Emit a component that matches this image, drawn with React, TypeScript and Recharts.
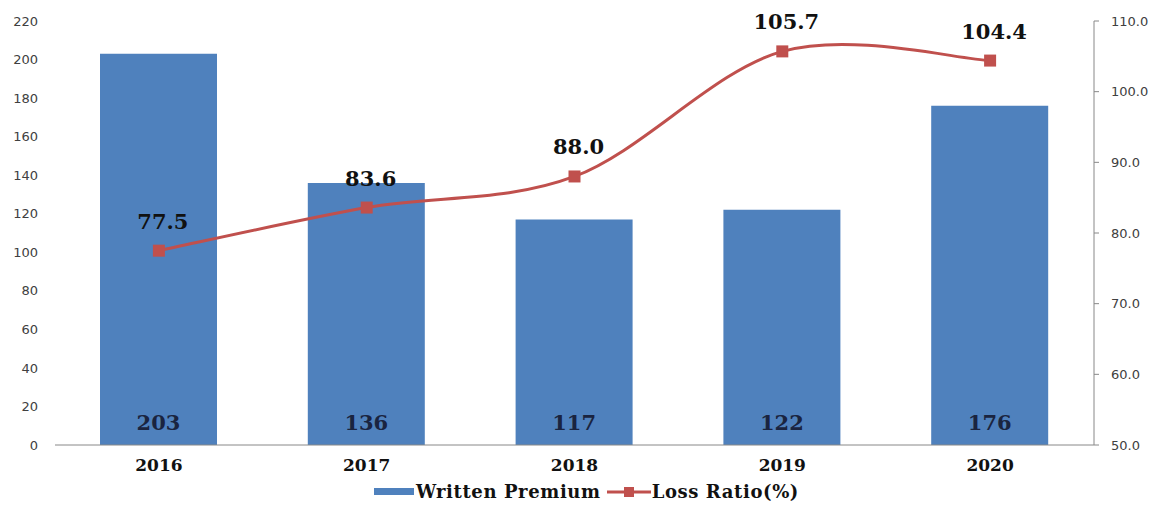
import {
  Bar,
  ComposedChart,
  LabelList,
  Legend,
  Line,
  XAxis,
  YAxis,
} from "recharts";

const years = ["2016", "2017", "2018", "2019", "2020"];
const writtenPremium = [203, 136, 117, 122, 176];
const lossRatio = [77.5, 83.6, 88.0, 105.7, 104.4];
const leftTicks = [0, 20, 40, 60, 80, 100, 120, 140, 160, 180, 200, 220];
const rightTicks = [50, 60, 70, 80, 90, 100, 110];

const BLUE = "#4f81bd";
const RED = "#c0504d";
const SERIF = "'DejaVu Serif', serif";
const SANS = "'DejaVu Sans', sans-serif";

const data = years.map((year, i) => ({
  year,
  premium: writtenPremium[i],
  loss: lossRatio[i],
}));

// spreadsheet-style smoothed line (catmull-rom, 1/6 tangents)
function smoothCurve(context: any) {
  let pts: [number, number][] = [];
  return {
    areaStart() {},
    areaEnd() {},
    lineStart() {
      pts = [];
    },
    point(x: number, y: number) {
      pts.push([+x, +y]);
    },
    lineEnd() {
      if (!pts.length) return;
      context.moveTo(pts[0][0], pts[0][1]);
      for (let i = 0; i < pts.length - 1; i++) {
        const p0 = pts[Math.max(i - 1, 0)];
        const p1 = pts[i];
        const p2 = pts[i + 1];
        const p3 = pts[Math.min(i + 2, pts.length - 1)];
        context.bezierCurveTo(
          p1[0] + (p2[0] - p0[0]) / 6,
          p1[1] + (p2[1] - p0[1]) / 6,
          p2[0] - (p3[0] - p1[0]) / 6,
          p2[1] - (p3[1] - p1[1]) / 6,
          p2[0],
          p2[1]
        );
      }
    },
  };
}

function BarValue(props: any) {
  const { x, y, width, height, value } = props;
  return (
    <text
      x={x + width / 2}
      y={y + height - 21}
      textAnchor="middle"
      dominantBaseline="middle"
      fontFamily={SERIF}
      fontWeight="bold"
      fontSize={21}
      fill="#1a2440"
    >
      {value}
    </text>
  );
}

function LineValue(props: any) {
  const { x, y, value } = props;
  return (
    <text
      x={x + 4}
      y={y - 22}
      textAnchor="middle"
      fontFamily={SERIF}
      fontWeight="bold"
      fontSize={21}
      fill="#111"
    >
      {Number(value).toFixed(1)}
    </text>
  );
}

function SquareDot(props: any) {
  const { cx, cy } = props;
  return <rect x={cx - 6} y={cy - 6} width={12} height={12} fill={RED} />;
}

function LegendBox() {
  const textStyle = {
    fontFamily: SERIF,
    fontWeight: "bold" as const,
    fontSize: 18,
    letterSpacing: 0.6,
    color: "#111",
  };
  return (
    <div style={{ display: "flex", justifyContent: "center", alignItems: "center", paddingLeft: 10 }}>
      <span style={{ display: "inline-block", width: 40, height: 7, background: BLUE, marginRight: 2 }} />
      <span style={textStyle}>Written Premium</span>
      <svg width={44} height={14} style={{ marginLeft: 6, marginRight: 1 }}>
        <line x1={0} y1={7} x2={44} y2={7} stroke={RED} strokeWidth={3} />
        <rect x={17} y={2} width={10} height={10} fill={RED} />
      </svg>
      <span style={textStyle}>Loss Ratio(%)</span>
    </div>
  );
}

export default function App() {
  return (
    <div style={{ margin: "-8px 0 0 -8px" }}>
      <ComposedChart
        width={1163}
        height={513}
        data={data}
        margin={{ top: 21, right: 0, left: 0, bottom: 0 }}
      >
        <XAxis
          dataKey="year"
          height={36}
          tickLine={false}
          axisLine={{ stroke: "#888" }}
          tick={{ fontFamily: SERIF, fontWeight: "bold", fontSize: 17, fill: "#111" }}
          tickMargin={8}
        />
        <YAxis
          yAxisId="left"
          domain={[0, 220]}
          ticks={leftTicks}
          width={55}
          axisLine={false}
          tickLine={false}
          tickMargin={11}
          tick={{ fontFamily: SANS, fontSize: 13, fill: "#404040" }}
        />
        <YAxis
          yAxisId="right"
          orientation="right"
          domain={[50, 110]}
          ticks={rightTicks}
          width={69}
          axisLine={{ stroke: "#888" }}
          tickLine={{ stroke: "#888" }}
          tickSize={5}
          tickMargin={12}
          tickFormatter={(v: number) => v.toFixed(1)}
          tick={{ fontFamily: SANS, fontSize: 13, fill: "#404040" }}
        />
        <Legend verticalAlign="bottom" height={32} content={<LegendBox />} />
        <Bar
          yAxisId="left"
          dataKey="premium"
          name="Written Premium"
          fill={BLUE}
          barSize={117}
          isAnimationActive={false}
        >
          <LabelList dataKey="premium" content={<BarValue />} />
        </Bar>
        <Line
          yAxisId="right"
          dataKey="loss"
          name="Loss Ratio(%)"
          type={smoothCurve as any}
          stroke={RED}
          strokeWidth={3}
          dot={<SquareDot />}
          activeDot={false}
          isAnimationActive={false}
        >
          <LabelList dataKey="loss" content={<LineValue />} />
        </Line>
      </ComposedChart>
    </div>
  );
}
